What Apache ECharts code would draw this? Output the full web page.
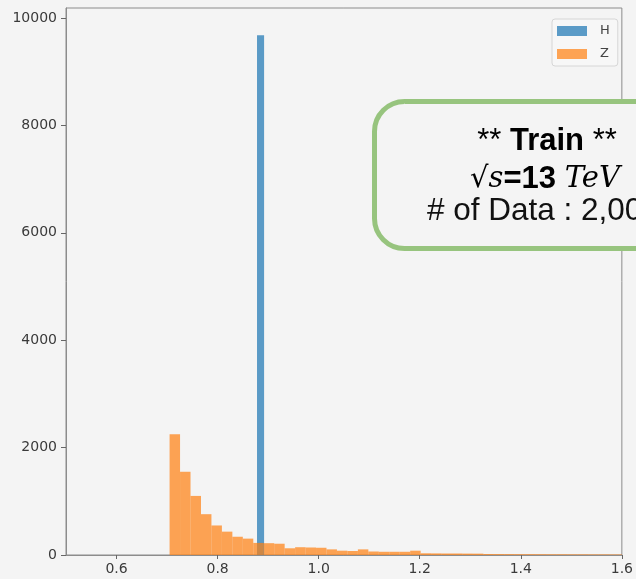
<!DOCTYPE html>
<html>
<head>
<meta charset="utf-8">
<script src="https://cdn.jsdelivr.net/npm/echarts@6/dist/echarts.min.js"></script>
<style>
html, body { margin: 0; padding: 0; background: #f4f4f4; }
#chart { width: 636px; height: 579px; }
</style>
</head>
<body>
<div id="chart"></div>
<script>
var chart = echarts.init(document.getElementById('chart'));

// histogram H : one tall bin
var hBinStart = 0.878;
var hBinWidth = 0.014;
var hCounts = [9680];

// histogram Z
var zBinStart = 0.705;
var zBinWidth = 0.0207;
var zCounts = [2250, 1550, 1100, 760, 550, 435, 340, 305, 225, 220,
	210, 125, 145, 140, 135, 105, 80, 75, 105, 65,
	60, 60, 60, 80, 32, 30, 28, 28, 26, 25,
	18, 17, 16, 15, 15, 14, 13, 13, 12, 12,
	11, 11, 10, 10];

var xTicks = [0.6, 0.8, 1.0, 1.2, 1.4, 1.6];
var seriesNames = ['H', 'Z'];

function toBins(start, width, counts) {
	var out = [];
	for (var i = 0; i < counts.length; i++) {
		out.push([start + i * width, start + (i + 1) * width, counts[i]]);
	}
	return out;
}

function histItem(params, api) {
	var p0 = api.coord([api.value(0), api.value(2)]);
	var p1 = api.coord([api.value(1), 0]);
	return {
		type: 'rect',
		shape: { x: p0[0], y: p0[1], width: p1[0] - p0[0], height: p1[1] - p0[1] },
		style: api.style()
	};
}

var option = {
	backgroundColor: '#f4f4f4',
	animation: false,
	grid: {
		left: 66,
		top: 8,
		right: 12,
		bottom: 24,
		show: true,
		borderColor: '#8c8c8c',
		borderWidth: 1,
		backgroundColor: 'transparent'
	},
	legend: {
		orient: 'vertical',
		left: 552,
		top: 19,
		padding: [5, 8, 5, 5],
		itemWidth: 30,
		itemHeight: 10,
		itemGap: 9,
		borderColor: '#d6d6d6',
		borderWidth: 1,
		borderRadius: 3,
		backgroundColor: '#f7f7f7',
		textStyle: { color: '#444', fontSize: 13, fontFamily: 'DejaVu Sans', padding: [0, 0, 0, 8], lineHeight: 14 },
		data: [
			{ name: 'H', icon: 'rect', itemStyle: { color: 'rgba(31,119,180,0.72)' } },
			{ name: 'Z', icon: 'rect', itemStyle: { color: 'rgba(255,127,14,0.7)' } }
		]
	},
	xAxis: {
		type: 'value',
		min: 0.5,
		max: 1.6,
		splitLine: { show: false },
		axisLine: { show: true, onZero: false, lineStyle: { color: '#8c8c8c' } },
		axisTick: { show: true, length: 4, customValues: xTicks, lineStyle: { color: '#666' } },
		axisLabel: {
			customValues: xTicks,
			margin: 7,
			color: '#3a3a3a',
			fontSize: 14,
			fontFamily: 'DejaVu Sans',
			formatter: function (v) { return v.toFixed(1); }
		}
	},
	yAxis: {
		type: 'value',
		min: 0,
		max: 10186,
		interval: 2000,
		splitLine: { show: false },
		axisLine: { show: true, lineStyle: { color: '#8c8c8c' } },
		axisTick: { show: true, length: 5, lineStyle: { color: '#666' } },
		axisLabel: {
			margin: 9,
			color: '#3a3a3a',
			fontSize: 14,
			fontFamily: 'DejaVu Sans',
			formatter: function (v) { return String(v); }
		}
	},
	series: [{
		name: seriesNames[0],
		type: 'custom',
		renderItem: histItem,
		clip: true,
		itemStyle: { color: 'rgba(31,119,180,0.72)' },
		encode: { x: [0, 1], y: 2 },
		data: toBins(hBinStart, hBinWidth, hCounts)
	}, {
		name: seriesNames[1],
		type: 'custom',
		renderItem: histItem,
		clip: true,
		itemStyle: { color: 'rgba(255,127,14,0.7)' },
		encode: { x: [0, 1], y: 2 },
		data: toBins(zBinStart, zBinWidth, zCounts)
	}],
	graphic: [{
		type: 'group',
		z: 100,
		children: [{
			type: 'rect',
			shape: { x: 374.5, y: 101.5, width: 420, height: 147, r: 30 },
			style: { fill: '#f4f4f4', stroke: '#97c47e', lineWidth: 5 }
		}, {
			type: 'text',
			x: 547,
			y: 141,
			style: {
				text: '{a|** }{b|Train}{a| **}',
				align: 'center',
				verticalAlign: 'middle',
				rich: {
					a: { fontSize: 31, fontFamily: 'Liberation Sans', color: '#111' },
					b: { fontSize: 31, fontFamily: 'Liberation Sans', fontWeight: 'bold', color: '#111' }
				}
			}
		}, {
			type: 'text',
			x: 545,
			y: 179,
			style: {
				text: '{r|√}{m|s}{b|=13 }{m|TeV}',
				align: 'center',
				verticalAlign: 'middle',
				rich: {
					r: { fontSize: 29, fontFamily: 'DejaVu Sans', color: '#111' },
					m: { fontSize: 29, fontFamily: 'DejaVu Serif', fontStyle: 'italic', color: '#111' },
					b: { fontSize: 31, fontFamily: 'Liberation Sans', fontWeight: 'bold', color: '#111' }
				}
			}
		}, {
			type: 'text',
			x: 427,
			y: 211,
			style: {
				text: '# of Data : 2,000',
				align: 'left',
				verticalAlign: 'middle',
				fontSize: 31.5,
				fontFamily: 'Liberation Sans',
				fill: '#111'
			}
		}]
	}]
};
chart.setOption(option);
</script>
</body>
</html>
